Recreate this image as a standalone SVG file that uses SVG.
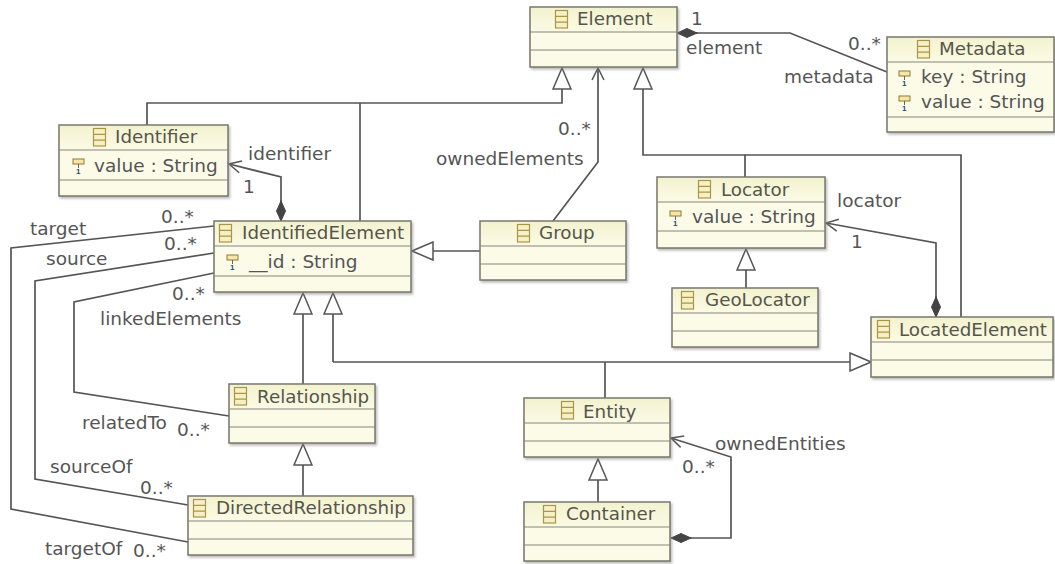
<svg xmlns="http://www.w3.org/2000/svg" width="1055" height="564" viewBox="0 0 1055 564">
<defs>
<linearGradient id="hd" x1="0" y1="0" x2="0" y2="1"><stop offset="0" stop-color="#f3f2cf"/><stop offset="1" stop-color="#fbfbe6"/></linearGradient>
<filter id="sh" x="-5%" y="-5%" width="112%" height="115%"><feDropShadow dx="1.5" dy="2" stdDeviation="1" flood-color="#888" flood-opacity="0.55"/></filter>
<g id="cls"><rect x="0.5" y="0.5" width="12" height="17.5" fill="#f7f0c4" stroke="#a8964a" stroke-width="1.2"/><path d="M0.5 6.3H12.5M0.5 12.2H12.5" stroke="#a8964a" stroke-width="1.2" fill="none"/></g>
<g id="attr"><rect x="0" y="0" width="11" height="5" fill="#f6e6a8" stroke="#8d7a35" stroke-width="1"/><path d="M5.5 5V9" stroke="#666"/><text x="3" y="15" font-family="Liberation Sans, sans-serif" font-size="8" font-weight="bold" fill="#1c4a78">1</text></g>
<marker id="tri" markerUnits="userSpaceOnUse" viewBox="0 0 23 20" refX="22" refY="10" markerWidth="23" markerHeight="20" orient="auto"><path d="M1 1L22 10L1 19Z" fill="#fff" stroke="#555" stroke-width="1.5"/></marker>
<marker id="open" markerUnits="userSpaceOnUse" viewBox="0 0 16 14" refX="15" refY="7" markerWidth="16" markerHeight="14" orient="auto"><path d="M3 1L15 7L3 13" fill="none" stroke="#555" stroke-width="1.5"/></marker>
<marker id="dia" markerUnits="userSpaceOnUse" viewBox="0 0 22 12" refX="21" refY="6" markerWidth="22" markerHeight="12" orient="auto"><path d="M1 6L11 1.5L21 6L11 10.5Z" fill="#444" stroke="#444"/></marker>
</defs>
<style>
.b{fill:#fbfbe8;stroke:#77776a;stroke-width:1.5;filter:url(#sh)}
.h{fill:url(#hd)}
.d{stroke:#85857a;stroke-width:1.2;fill:none}
.n{font:18.3px "DejaVu Sans",sans-serif;fill:#55554a}
.a{font:18.5px "DejaVu Sans",sans-serif;fill:#555}
.l{font:18.5px "DejaVu Sans",sans-serif;fill:#555}
.c path{fill:none;stroke:#555;stroke-width:1.7}
</style>
<rect width="1055" height="564" fill="#fff"/>
<g id="connectors" class="c">
<path d="M147 125V103H562V68" marker-end="url(#tri)"/>
<path d="M360 103V221"/>
<path d="M553 221L598 162V68" marker-end="url(#open)"/>
<path d="M745 177V155H643V68" marker-end="url(#tri)"/>
<path d="M745 155H961V317"/>
<path d="M696 33H790L887 72"/>
<path d="M698 33H677" marker-end="url(#dia)"/>
<path d="M281 201V177L229 164" marker-end="url(#open)"/>
<path d="M281 200V221" marker-end="url(#dia)"/>
<path d="M480 251H412" marker-end="url(#tri)"/>
<path d="M214 226L11 248V509L188 542"/>
<path d="M214 253L35 281V479L188 505"/>
<path d="M214 273L74 302V392L229 416"/>
<path d="M303 384V293" marker-end="url(#tri)"/>
<path d="M303 496V444" marker-end="url(#tri)"/>
<path d="M333 362V293" marker-end="url(#tri)"/>
<path d="M333 362H871" marker-end="url(#tri)"/>
<path d="M605 362V398"/>
<path d="M746 288V249" marker-end="url(#tri)"/>
<path d="M936 297V243L826 223" marker-end="url(#open)"/>
<path d="M936 296V317" marker-end="url(#dia)"/>
<path d="M598 502V459" marker-end="url(#tri)"/>
<path d="M692 538H731V457L671 438" marker-end="url(#open)"/>
<path d="M692 538H671" marker-end="url(#dia)"/>
</g>
<g id="Element"><rect class="b" x="530" y="7" width="147" height="60"/><rect class="h" x="531" y="8" width="145" height="24"/><path class="d" d="M530 32H677M530 50H677"/><use href="#cls" x="555" y="10"/><text class="n" x="577" y="25">Element</text></g>
<g id="Metadata"><rect class="b" x="887" y="37" width="167" height="95"/><rect class="h" x="888" y="38" width="165" height="24"/><path class="d" d="M887 62H1054M887 117H1054"/><use href="#cls" x="917" y="40"/><text class="n" x="939" y="55">Metadata</text><use href="#attr" x="899" y="71"/><text class="a" x="921" y="83">key : String</text><use href="#attr" x="899" y="96"/><text class="a" x="921" y="108">value : String</text></g>
<g id="Identifier"><rect class="b" x="59" y="125" width="169" height="71"/><rect class="h" x="60" y="126" width="167" height="24"/><path class="d" d="M59 150H228M59 180H228"/><use href="#cls" x="93" y="128"/><text class="n" x="115" y="143">Identifier</text><use href="#attr" x="73" y="159"/><text class="a" x="94" y="172">value : String</text></g>
<g id="IdentifiedElement"><rect class="b" x="214" y="221" width="197" height="71"/><rect class="h" x="215" y="222" width="195" height="24"/><path class="d" d="M214 246H411M214 276H411"/><use href="#cls" x="219" y="224"/><text class="n" x="242" y="239">IdentifiedElement</text><use href="#attr" x="227" y="255"/><text class="a" x="249" y="268">__id : String</text></g>
<g id="Group"><rect class="b" x="480" y="221" width="146" height="59"/><rect class="h" x="481" y="222" width="144" height="24"/><path class="d" d="M480 246H626M480 264H626"/><use href="#cls" x="517" y="224"/><text class="n" x="539" y="239">Group</text></g>
<g id="Locator"><rect class="b" x="657" y="177" width="168" height="71"/><rect class="h" x="658" y="178" width="166" height="24"/><path class="d" d="M657 202H825M657 231H825"/><use href="#cls" x="698" y="180"/><text class="n" x="721" y="196">Locator</text><use href="#attr" x="670" y="211"/><text class="a" x="692" y="223">value : String</text></g>
<g id="GeoLocator"><rect class="b" x="672" y="288" width="146" height="59"/><rect class="h" x="673" y="289" width="144" height="24"/><path class="d" d="M672 313H818M672 331H818"/><use href="#cls" x="681" y="291"/><text class="n" x="705" y="306">GeoLocator</text></g>
<g id="LocatedElement"><rect class="b" x="871" y="317" width="182" height="60"/><rect class="h" x="872" y="318" width="180" height="24"/><path class="d" d="M871 342H1053M871 360H1053"/><use href="#cls" x="877" y="320"/><text class="n" x="899" y="336">LocatedElement</text></g>
<g id="Relationship"><rect class="b" x="229" y="384" width="146" height="59"/><rect class="h" x="230" y="385" width="144" height="24"/><path class="d" d="M229 409H375M229 427H375"/><use href="#cls" x="234" y="387"/><text class="n" x="257" y="403">Relationship</text></g>
<g id="DirectedRelationship"><rect class="b" x="188" y="496" width="225" height="59"/><rect class="h" x="189" y="497" width="223" height="24"/><path class="d" d="M188 521H413M188 539H413"/><use href="#cls" x="193" y="499"/><text class="n" x="216" y="514">DirectedRelationship</text></g>
<g id="Entity"><rect class="b" x="524" y="398" width="146" height="59"/><rect class="h" x="525" y="399" width="144" height="24"/><path class="d" d="M524 423H670M524 441H670"/><use href="#cls" x="561" y="401"/><text class="n" x="583" y="418">Entity</text></g>
<g id="Container"><rect class="b" x="524" y="502" width="146" height="59"/><rect class="h" x="525" y="503" width="144" height="24"/><path class="d" d="M524 527H670M524 545H670"/><use href="#cls" x="543" y="505"/><text class="n" x="566" y="520">Container</text></g>
<g id="labels">
<text class="l" x="691" y="25">1</text><text class="l" x="686" y="54">element</text><text class="l" x="848" y="50">0..*</text><text class="l" x="784" y="83">metadata</text>
<text class="l" x="248" y="160">identifier</text><text class="l" x="243" y="193">1</text>
<text class="l" x="161" y="223">0..*</text><text class="l" x="164" y="250">0..*</text><text class="l" x="172" y="300">0..*</text>
<text class="l" x="30" y="235">target</text><text class="l" x="46" y="265">source</text><text class="l" x="100" y="325">linkedElements</text>
<text class="l" x="82" y="429">relatedTo</text><text class="l" x="177" y="436">0..*</text><text class="l" x="50" y="473">sourceOf</text><text class="l" x="140" y="494">0..*</text><text class="l" x="45" y="555">targetOf</text><text class="l" x="133" y="557">0..*</text>
<text class="l" x="558" y="135">0..*</text><text class="l" x="436" y="165">ownedElements</text>
<text class="l" x="837" y="207">locator</text><text class="l" x="851" y="248">1</text>
<text class="l" x="715" y="450">ownedEntities</text><text class="l" x="682" y="473">0..*</text>
</g>
</svg>
